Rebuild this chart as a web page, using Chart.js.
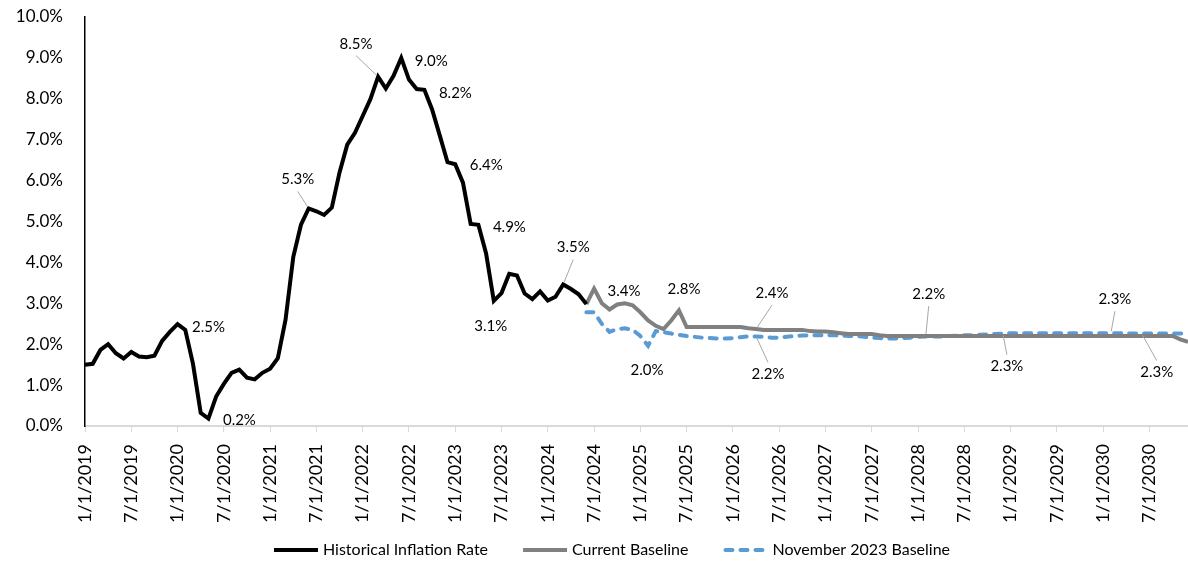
<!DOCTYPE html>
<html>
<head>
<meta charset="utf-8">
<script src="https://cdn.jsdelivr.net/npm/chart.js@4.4.1/dist/chart.umd.min.js"></script>
<style>
  html, body { margin: 0; padding: 0; background: #fff; }
  #wrap { width: 1188px; height: 562px; position: relative; }
</style>
</head>
<body>
<div id="wrap"><canvas id="chart"></canvas></div>
<script>
// monthly, 1/2019 .. 12/2030
const firstYear = 2019;
const monthCount = 144;
const forecastStart = 65; // 6/2024, where the baselines pick up

const historical = [
  1.5, 1.52, 1.86, 2.0, 1.78, 1.65, 1.81, 1.7, 1.68, 1.72, 2.08, 2.3,
  2.49, 2.35, 1.52, 0.32, 0.18, 0.72, 1.03, 1.3, 1.38, 1.18, 1.14, 1.3,
  1.4, 1.66, 2.6, 4.13, 4.92, 5.32, 5.25, 5.16, 5.34, 6.2, 6.88, 7.17,
  7.58, 7.99, 8.54, 8.25, 8.56, 9.0, 8.47, 8.24, 8.22, 7.74, 7.1, 6.45,
  6.4, 5.95, 4.94, 4.92, 4.22, 3.06, 3.25, 3.72, 3.68, 3.24, 3.1, 3.29,
  3.07, 3.16, 3.46, 3.35, 3.22, 2.98
];

const currentBaseline = [
  2.98, 3.36, 3.0, 2.85, 2.97, 3.0, 2.95,
  2.78, 2.58, 2.45, 2.37, 2.58, 2.83, 2.42, 2.42, 2.42, 2.42, 2.42, 2.42,
  2.42, 2.42, 2.39, 2.37, 2.35, 2.35, 2.35, 2.35, 2.35, 2.35, 2.32, 2.31,
  2.31, 2.29, 2.27, 2.25, 2.25, 2.25, 2.25, 2.22, 2.2, 2.2, 2.2, 2.2,
  2.2, 2.2, 2.2, 2.2, 2.2, 2.2, 2.2, 2.2, 2.2, 2.2, 2.2, 2.2,
  2.2, 2.2, 2.2, 2.2, 2.2, 2.2, 2.2, 2.2, 2.2, 2.2, 2.2, 2.2,
  2.2, 2.2, 2.2, 2.2, 2.2, 2.2, 2.2, 2.2, 2.2, 2.2, 2.12, 2.06
];

const nov2023Baseline = [
  2.78, 2.78, 2.5, 2.3, 2.37, 2.39, 2.35,
  2.2, 1.96, 2.32, 2.29, 2.26, 2.23, 2.2, 2.18, 2.16, 2.15, 2.14, 2.14,
  2.15, 2.17, 2.19, 2.19, 2.18, 2.16, 2.16, 2.18, 2.2, 2.21, 2.22, 2.22,
  2.22, 2.22, 2.21, 2.2, 2.2, 2.18, 2.16, 2.15, 2.14, 2.14, 2.15, 2.16,
  2.18, 2.19, 2.19, 2.19, 2.2, 2.21, 2.22, 2.22, 2.23, 2.24, 2.25, 2.26,
  2.27, 2.27, 2.27, 2.27, 2.27, 2.27, 2.27, 2.27, 2.27, 2.27, 2.27, 2.27,
  2.27, 2.27, 2.27, 2.26, 2.26, 2.26, 2.26, 2.26, 2.26, 2.26, 2.26, 2.26
];

const yTicks = [0, 1, 2, 3, 4, 5, 6, 7, 8, 9, 10];

// which points carry a value label (series index, month index), with label offset in px
const pointNotes = [
  { series: 0, month: 12, dx: 31, dy: 3 },
  { series: 0, month: 16, dx: 31, dy: 2 },
  { series: 0, month: 29, dx: -11, dy: -29, leader: true },
  { series: 0, month: 38, dx: -22, dy: -33, leader: true },
  { series: 0, month: 41, dx: 30, dy: 3 },
  { series: 0, month: 44, dx: 31, dy: 3 },
  { series: 0, month: 48, dx: 31, dy: 1 },
  { series: 0, month: 51, dx: 31, dy: 2 },
  { series: 0, month: 53, dx: -3, dy: 25 },
  { series: 0, month: 62, dx: 10, dy: -37, leader: true },
  { series: 1, month: 66, dx: 30, dy: 3 },
  { series: 1, month: 77, dx: 5, dy: -21 },
  { series: 2, month: 73, dx: -1, dy: 24 },
  { series: 1, month: 87, dx: 16, dy: -36, leader: true },
  { series: 2, month: 87, dx: 12, dy: 38, leader: true },
  { series: 1, month: 109, dx: 3, dy: -42, leader: true },
  { series: 2, month: 119, dx: 4, dy: 33, leader: true },
  { series: 2, month: 133, dx: 4, dy: -34, leader: true },
  { series: 2, month: 137, dx: 15, dy: 39, leader: true }
];

const labels = [];
for (let i = 0; i < monthCount; i++) {
  labels.push((i % 12 + 1) + '/1/' + (firstYear + Math.floor(i / 12)));
}
const pad = new Array(forecastStart).fill(null);

const notesPlugin = {
  id: 'pointNotes',
  afterDatasetsDraw(chart) {
    const ctx = chart.ctx;
    ctx.save();
    ctx.font = '15px Lato';
    ctx.textAlign = 'center';
    ctx.textBaseline = 'middle';
    pointNotes.forEach(n => {
      const pt = chart.getDatasetMeta(n.series).data[n.month];
      const v = chart.data.datasets[n.series].data[n.month];
      const lx = pt.x + n.dx, ly = pt.y + n.dy;
      if (n.leader) {
        const s = n.dy < 0 ? 1 : -1;
        const sx = lx, sy = ly + s * 12;
        const len = Math.hypot(pt.x - sx, pt.y - sy);
        ctx.strokeStyle = '#a6a6a6';
        ctx.lineWidth = 1;
        ctx.beginPath();
        ctx.moveTo(sx, sy);
        ctx.lineTo(pt.x + (sx - pt.x) * 2 / len, pt.y + (sy - pt.y) * 2 / len);
        ctx.stroke();
      }
      ctx.fillStyle = '#000';
      ctx.fillText(v.toFixed(1) + '%', lx, ly);
    });
    ctx.restore();
  }
};

// Excel-style legend: long line samples, wide gaps, sitting low under the date labels
const legendPlugin = {
  id: 'lineLegend',
  afterDraw(chart) {
    const ctx = chart.ctx;
    const sample = 44, gap = 5, itemGap = 35, y = 550;
    ctx.save();
    ctx.font = '16px Lato';
    ctx.textBaseline = 'middle';
    const items = chart.data.datasets.map(ds => ({ ds, w: sample + gap + ctx.measureText(ds.label).width }));
    const total = items.reduce((a, it) => a + it.w, 0) + itemGap * (items.length - 1);
    let x = 612 - total / 2;
    items.forEach(({ ds, w }) => {
      ctx.strokeStyle = ds.borderColor;
      ctx.lineWidth = ds.borderWidth;
      ctx.lineCap = ds.borderCapStyle || 'butt';
      ctx.setLineDash(ds.borderDash || []);
      ctx.beginPath();
      ctx.moveTo(x + (ds.borderDash ? 2 : 0), y);
      ctx.lineTo(x + sample, y);
      ctx.stroke();
      ctx.setLineDash([]);
      ctx.fillStyle = '#000';
      ctx.fillText(ds.label, x + sample + gap, y);
      x += w + itemGap;
    });
    ctx.restore();
  }
};

Chart.defaults.font.family = 'Lato';
Chart.defaults.color = '#000';

new Chart(document.getElementById('chart'), {
  type: 'line',
  data: {
    labels: labels,
    datasets: [
      {
        label: 'Historical Inflation Rate',
        data: historical,
        borderColor: '#000000',
        backgroundColor: '#000000',
        borderWidth: 4
      },
      {
        label: 'Current Baseline',
        data: pad.concat(currentBaseline),
        borderColor: '#808080',
        backgroundColor: '#808080',
        borderWidth: 4
      },
      {
        label: 'November 2023 Baseline',
        data: pad.concat(nov2023Baseline),
        borderColor: '#5b9bd5',
        backgroundColor: '#5b9bd5',
        borderWidth: 4,
        borderDash: [7, 8],
        borderCapStyle: 'round'
      }
    ]
  },
  options: {
    responsive: true,
    maintainAspectRatio: false,
    animation: false,
    layout: { padding: { top: 17, left: 15, right: 0, bottom: 36 } },
    elements: { point: { radius: 0 }, line: { tension: 0 } },
    plugins: {
      legend: { display: false },
      tooltip: { enabled: false }
    },
    scales: {
      x: {
        offset: false,
        grid: { drawOnChartArea: false, color: '#d9d9d9', tickLength: 6 },
        border: { color: '#d9d9d9', width: 2 },
        afterFit: s => { s.height = 100; },
        ticks: {
          autoSkip: false,
          maxRotation: 90,
          minRotation: 90,
          padding: 12,
          font: { size: 18 },
          callback: function (value, index) {
            return index % 6 === 0 ? this.getLabelForValue(value) : null;
          }
        }
      },
      y: {
        min: yTicks[0],
        max: yTicks[yTicks.length - 1],
        grid: { drawOnChartArea: false, drawTicks: true, tickLength: 22, tickColor: 'rgba(0,0,0,0)' },
        border: { color: '#000', width: 1.5 },
        afterBuildTicks: axis => { axis.ticks = yTicks.map(v => ({ value: v })); },
        afterFit: s => { s.width = 70; },
        ticks: {
          padding: 0,
          font: { size: 17 },
          callback: v => v.toFixed(1) + '%'
        }
      }
    }
  },
  plugins: [notesPlugin, legendPlugin]
});
</script>
</body>
</html>
